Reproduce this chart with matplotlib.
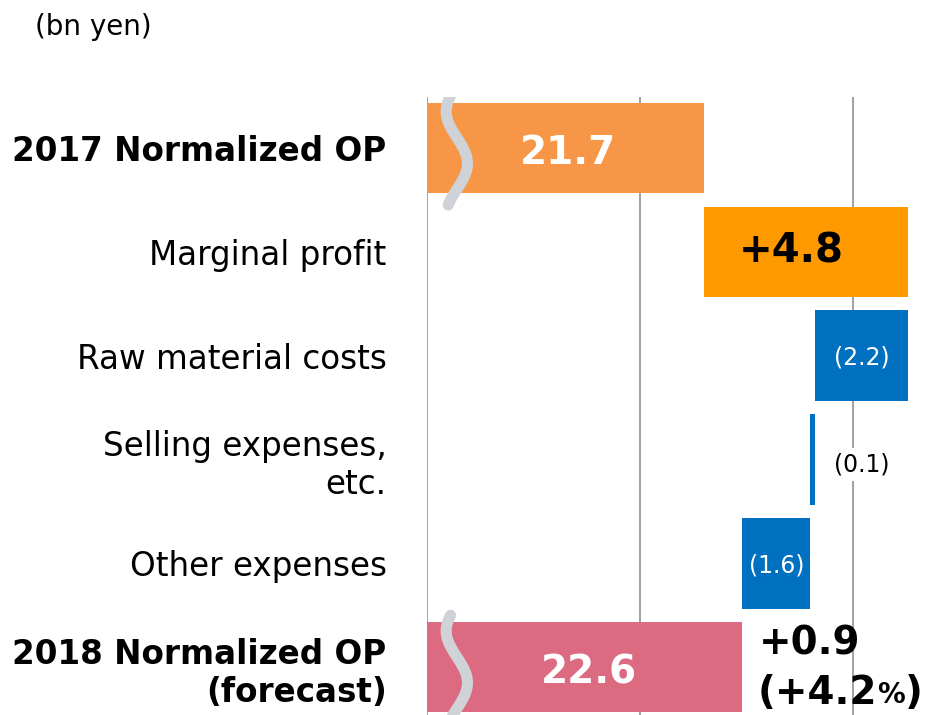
import numpy as np
import matplotlib.pyplot as plt

categories = ["2017 Normalized OP", "Marginal profit", "Raw material costs",
              "Selling expenses,\netc.", "Other expenses", "2018 Normalized OP\n(forecast)"]
start_value = 21.7
changes = [4.8, -2.2, -0.1, -1.6]
end_value = 22.6
change_labels = ["+4.8", "(2.2)", "(0.1)", "(1.6)"]
total_change = "+0.9"
total_pct = "(+4.2"

plt.rcParams['font.family'] = ['DejaVu Sans']

fig = plt.figure(figsize=(9.34, 7.15), dpi=100)
ax = fig.add_axes([427 / 934, 0, 507 / 934, 618 / 715])

x0 = 15.2
ax.set_xlim(x0, 27.1)
ax.set_ylim(5.46, -0.49)
for gx in [x0, 20.2, 25.2]:
    ax.axvline(gx, color="#9a9a9a", lw=1.3, zorder=0)

h = 0.87
ax.barh(0, start_value - x0, left=x0, height=h, color="#F79646", zorder=2)
ax.text((x0 + start_value) / 2 + 0.05, 0.05, f"{start_value}", color="white",
        fontsize=28, fontweight="bold", ha="center", va="center", zorder=4)

colors = ["#FF9900", "#0070C0", "#0070C0", "#0070C0"]
cum = start_value
for i, (d, lab, c) in enumerate(zip(changes, change_labels, colors), start=1):
    left = cum if d > 0 else cum + d
    ax.barh(i, abs(d), left=left, height=h, color=c, zorder=2)
    mid = left + abs(d) / 2
    if i == 1:
        ax.text(mid - 0.35, i, lab, color="black", fontsize=29, fontweight="bold",
                ha="center", va="center", zorder=4)
    elif abs(d) < 0.5:
        ax.text(left + abs(d) + 1.1, i + 0.05, lab, color="black", fontsize=17,
                ha="center", va="center", zorder=4,
                bbox=dict(facecolor="white", edgecolor="none", pad=3))
    else:
        ax.text(mid, i + 0.02, lab, color="white", fontsize=17,
                ha="center", va="center", zorder=4)
    cum += d

ax.barh(5, end_value - x0, left=x0, height=h, color="#DC6B82", zorder=2)
ax.text((x0 + end_value) / 2 + 0.1, 5.05, f"{end_value}", color="white",
        fontsize=28, fontweight="bold", ha="center", va="center", zorder=4)

ax.text(23.0, 4.77, total_change, color="black", fontsize=28, fontweight="bold",
        ha="left", va="center", zorder=4)
t = ax.text(22.95, 5.25, total_pct, color="black", fontsize=28, fontweight="bold",
            ha="left", va="center", zorder=4)
pct = ax.annotate("%", xycoords=t, xy=(1, 0), va="bottom", ha="left", fontsize=20,
                  fontweight="bold", xytext=(0, 2), textcoords="offset points")
ax.annotate(")", xycoords=pct, xy=(1, 0), va="bottom", ha="left", fontsize=28,
            fontweight="bold", xytext=(0, -2), textcoords="offset points")

# axis break marks
for yc in [0, 5]:
    yy = np.linspace(yc - 0.5, yc + 0.55, 100)
    xx = x0 + 0.7 + 0.25 * np.sin((yy - yc + 0.1) * 2 * np.pi / 1.0)
    ax.plot(xx, yy, color="#cfd2d6", lw=8, solid_capstyle="round", zorder=3)

ax.set_yticks(range(len(categories)))
ax.set_yticklabels(categories, fontsize=23.5, linespacing=1.2)
for i, lbl in enumerate(ax.get_yticklabels()):
    if i in (0, 5):
        lbl.set_fontweight("bold")
    lbl.set_horizontalalignment("right")
ax.tick_params(axis="y", length=0, pad=29)
ax.set_xticks([])
for s in ax.spines.values():
    s.set_visible(False)

fig.text(35 / 934, 1 - 27 / 715, "(bn yen)", fontsize=20, va="center", ha="left")

fig.savefig("out.png", dpi=100)
